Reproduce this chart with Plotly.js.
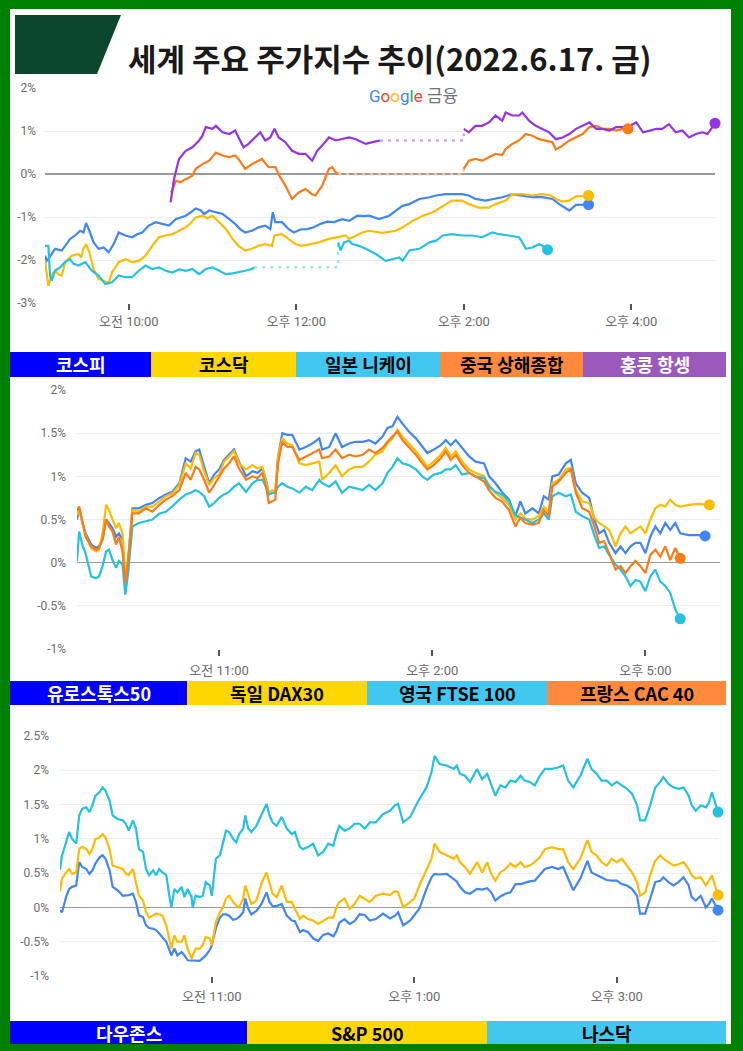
<!DOCTYPE html>
<html>
<head>
<meta charset="utf-8">
<script src="https://cdn.plot.ly/plotly-3.0.1.min.js"></script>
<style>html,body{margin:0;padding:0;background:#008000;}#chart{width:743px;height:1051px;}</style>
</head>
<body>
<div id="chart"></div>
<script>
// ---------------- Panel 1: Asia (KST, decimal hours) ----------------
const kospiT = [9.00,9.02,9.04,9.12,9.20,9.24,9.30,9.36,9.42,9.46,9.49,9.53,9.58,9.64,9.70,9.76,9.82,9.88,9.96,10.04,10.10,10.16,10.24,10.32,10.40,10.48,10.56,10.68,10.74,10.80,10.86,10.90,10.96,11.04,11.12,11.20,11.27,11.33,11.39,11.47,11.55,11.63,11.69,11.72,11.75,11.83,11.91,11.97,12.05,12.13,12.21,12.29,12.37,12.45,12.55,12.63,12.73,12.81,12.87,12.99,13.11,13.19,13.27,13.35,13.47,13.59,13.67,13.78,13.90,13.98,14.06,14.14,14.26,14.38,14.46,14.58,14.70,14.82,14.94,15.06,15.14,15.22,15.26,15.34,15.42,15.49];
const kospiV = [-1.90,-2.02,-1.98,-1.74,-1.78,-1.67,-1.51,-1.43,-1.32,-1.36,-1.14,-1.32,-1.59,-1.74,-1.71,-1.82,-1.63,-1.36,-1.43,-1.47,-1.40,-1.36,-1.20,-1.12,-1.16,-1.20,-1.05,-0.97,-0.89,-0.80,-0.85,-0.93,-0.85,-0.89,-0.93,-1.05,-1.16,-1.28,-1.36,-1.32,-1.24,-1.20,-1.28,-0.89,-1.12,-1.12,-1.28,-1.36,-1.29,-1.28,-1.24,-1.16,-1.11,-1.12,-1.05,-1.09,-0.97,-0.98,-0.97,-1.05,-0.97,-0.85,-0.74,-0.70,-0.58,-0.54,-0.50,-0.47,-0.47,-0.47,-0.50,-0.58,-0.62,-0.58,-0.54,-0.47,-0.50,-0.54,-0.54,-0.58,-0.70,-0.81,-0.85,-0.72,-0.72,-0.71];
const kosdaqT = [9.00,9.04,9.08,9.12,9.16,9.20,9.24,9.32,9.40,9.43,9.46,9.49,9.53,9.58,9.64,9.70,9.76,9.80,9.88,9.96,10.04,10.12,10.20,10.28,10.36,10.44,10.52,10.60,10.68,10.74,10.80,10.88,10.94,11.00,11.08,11.16,11.24,11.31,11.39,11.47,11.55,11.63,11.71,11.74,11.83,11.91,11.99,12.07,12.19,12.27,12.39,12.51,12.59,12.63,12.71,12.79,12.87,13.03,13.19,13.27,13.39,13.51,13.63,13.75,13.86,13.98,14.06,14.18,14.30,14.38,14.50,14.58,14.70,14.82,14.94,15.04,15.10,15.18,15.26,15.34,15.42,15.49];
const kosdaqV = [-2.02,-2.60,-2.36,-2.25,-2.33,-2.36,-2.05,-1.90,-1.86,-1.94,-1.74,-1.63,-1.82,-2.21,-2.44,-2.48,-2.53,-2.29,-2.05,-1.98,-2.05,-2.02,-1.90,-1.67,-1.47,-1.43,-1.40,-1.32,-1.24,-1.14,-1.01,-0.97,-1.03,-0.97,-1.12,-1.28,-1.51,-1.67,-1.78,-1.74,-1.67,-1.63,-1.67,-1.43,-1.40,-1.51,-1.63,-1.67,-1.63,-1.59,-1.51,-1.47,-1.43,-1.51,-1.43,-1.36,-1.32,-1.37,-1.32,-1.24,-1.09,-0.97,-0.89,-0.74,-0.62,-0.62,-0.70,-0.78,-0.78,-0.70,-0.62,-0.47,-0.47,-0.50,-0.47,-0.50,-0.58,-0.64,-0.62,-0.52,-0.50,-0.50];
const nikkeiAmT = [9.00,9.04,9.06,9.08,9.12,9.18,9.24,9.30,9.34,9.40,9.48,9.56,9.64,9.72,9.80,9.88,9.96,10.04,10.12,10.20,10.28,10.36,10.44,10.52,10.60,10.68,10.76,10.84,10.92,11.00,11.08,11.16,11.24,11.31,11.39,11.47,11.50];
const nikkeiAmV = [-1.67,-1.67,-2.36,-2.48,-2.25,-2.17,-2.05,-1.98,-2.09,-2.13,-2.05,-2.25,-2.36,-2.56,-2.52,-2.36,-2.40,-2.40,-2.25,-2.13,-2.21,-2.17,-2.25,-2.29,-2.22,-2.25,-2.21,-2.33,-2.21,-2.17,-2.25,-2.33,-2.31,-2.29,-2.25,-2.21,-2.17];
const nikkeiPmT = [12.50,12.53,12.57,12.63,12.67,12.75,12.83,12.95,13.07,13.15,13.23,13.27,13.35,13.47,13.59,13.67,13.75,13.86,13.98,14.10,14.22,14.34,14.42,14.54,14.66,14.70,14.74,14.82,14.90,14.94,15.00];
const nikkeiPmV = [-1.59,-1.78,-1.59,-1.55,-1.63,-1.67,-1.74,-1.86,-2.02,-1.98,-1.94,-2.02,-1.78,-1.74,-1.59,-1.55,-1.43,-1.40,-1.43,-1.43,-1.47,-1.36,-1.40,-1.43,-1.47,-1.59,-1.74,-1.71,-1.63,-1.67,-1.76];
const chinaAmT = [10.50,10.52,10.56,10.62,10.68,10.76,10.80,10.88,10.96,11.04,11.12,11.20,11.27,11.31,11.39,11.47,11.55,11.59,11.67,11.75,11.81,11.87,11.95,12.03,12.11,12.19,12.23,12.31,12.39,12.43,12.47,12.50];
const chinaAmV = [-0.43,-0.39,-0.16,-0.19,-0.12,-0.04,0.12,0.23,0.31,0.50,0.43,0.39,0.43,0.35,0.12,0.23,0.31,0.35,0.16,0.16,-0.08,-0.27,-0.58,-0.43,-0.35,-0.47,-0.50,-0.27,0.12,0.16,0.04,0.00];
const chinaPmT = [14.00,14.06,14.14,14.22,14.30,14.38,14.46,14.50,14.58,14.66,14.74,14.82,14.90,14.98,15.06,15.10,15.18,15.26,15.34,15.42,15.50,15.58,15.66,15.74,15.82,15.90,15.96];
const chinaPmV = [0.12,0.31,0.35,0.31,0.39,0.47,0.44,0.58,0.70,0.78,0.93,0.89,0.81,0.78,0.74,0.57,0.66,0.78,0.85,0.93,1.09,1.12,1.05,1.05,1.01,1.05,1.05];
const hkAmT = [10.50,10.54,10.60,10.68,10.76,10.84,10.88,10.92,11.00,11.04,11.12,11.20,11.27,11.31,11.37,11.43,11.51,11.57,11.63,11.69,11.74,11.79,11.87,11.95,12.03,12.11,12.19,12.25,12.31,12.39,12.47,12.55,12.63,12.71,12.79,12.83,12.91,12.95,13.00];
const hkAmV = [-0.66,-0.12,0.35,0.54,0.62,0.78,0.89,1.09,1.05,1.12,0.97,0.93,1.01,0.85,0.62,0.70,0.85,0.97,0.78,0.85,1.05,0.85,0.74,0.54,0.47,0.47,0.31,0.54,0.66,0.85,0.78,0.81,0.85,0.81,0.74,0.70,0.74,0.76,0.78];
const hkPmT = [14.00,14.06,14.14,14.22,14.30,14.38,14.46,14.50,14.58,14.66,14.70,14.78,14.86,14.94,15.02,15.10,15.18,15.26,15.34,15.42,15.50,15.58,15.66,15.74,15.82,15.90,15.98,16.06,16.14,16.22,16.30,16.37,16.45,16.53,16.61,16.69,16.77,16.85,16.91,17.00];
const hkPmV = [1.05,0.97,1.12,1.12,1.20,1.36,1.24,1.43,1.36,1.36,1.43,1.24,1.12,1.05,0.97,0.81,0.85,0.93,1.05,1.12,1.20,1.05,1.05,1.01,1.09,1.09,1.12,1.20,0.97,1.01,1.05,1.05,1.16,0.97,1.01,0.85,0.93,0.97,0.93,1.18];

// ---------------- Panel 2: Europe (CEST) ----------------
const euT = [9.00,9.03,9.08,9.12,9.20,9.27,9.31,9.36,9.41,9.45,9.50,9.55,9.59,9.64,9.68,9.72,9.78,9.87,9.97,10.06,10.16,10.25,10.34,10.44,10.53,10.60,10.67,10.72,10.79,10.86,10.93,11.00,11.07,11.14,11.21,11.28,11.38,11.47,11.54,11.61,11.66,11.70,11.75,11.79,11.83,11.89,11.96,12.03,12.13,12.22,12.31,12.41,12.45,12.55,12.64,12.73,12.83,12.92,13.02,13.11,13.20,13.30,13.37,13.44,13.51,13.58,13.67,13.77,13.86,13.93,14.02,14.12,14.19,14.26,14.33,14.42,14.52,14.61,14.73,14.80,14.89,14.98,15.08,15.17,15.24,15.31,15.41,15.50,15.57,15.64,15.69,15.78,15.88,15.95,16.02,16.11,16.21,16.28,16.35,16.42,16.49,16.58,16.65,16.72,16.79,16.86,16.93,17.00,17.07,17.14,17.21,17.28,17.35,17.42,17.49];
const stoxxV = [0.50,0.63,0.46,0.34,0.21,0.17,0.19,0.27,0.50,0.46,0.40,0.30,0.34,0.27,-0.20,0.03,0.63,0.63,0.67,0.69,0.75,0.79,0.82,0.92,1.21,1.17,1.29,1.31,1.11,0.92,1.02,1.08,1.19,1.25,1.31,1.17,1.00,1.06,1.04,1.09,0.96,0.79,0.81,0.81,1.23,1.50,1.48,1.48,1.31,1.34,1.38,1.44,1.31,1.34,1.50,1.34,1.38,1.40,1.40,1.42,1.38,1.46,1.56,1.58,1.69,1.61,1.52,1.44,1.34,1.27,1.31,1.36,1.42,1.36,1.42,1.33,1.23,1.17,1.15,1.00,0.92,0.82,0.73,0.54,0.71,0.57,0.63,0.57,0.77,0.73,1.00,1.02,1.15,1.19,0.92,0.81,0.75,0.50,0.34,0.38,0.23,0.11,0.19,0.11,0.19,0.23,0.23,0.11,0.30,0.42,0.34,0.46,0.38,0.46,0.34];
const daxV = [0.55,0.61,0.44,0.32,0.17,0.13,0.15,0.34,0.67,0.61,0.50,0.40,0.46,0.34,-0.16,0.05,0.61,0.59,0.65,0.65,0.71,0.77,0.80,0.90,1.15,1.09,1.27,1.25,1.06,0.90,0.98,1.02,1.17,1.23,1.29,1.15,1.08,1.13,1.09,1.11,0.94,0.81,0.84,0.82,1.23,1.44,1.38,1.36,1.15,1.13,1.15,1.17,0.96,1.04,1.13,1.00,1.08,1.11,1.11,1.17,1.25,1.29,1.38,1.44,1.54,1.46,1.38,1.29,1.19,1.11,1.17,1.25,1.33,1.23,1.29,1.17,1.08,1.04,1.00,0.90,0.81,0.75,0.67,0.50,0.57,0.51,0.50,0.54,0.65,0.59,0.92,0.96,1.08,1.10,0.84,0.71,0.69,0.52,0.46,0.42,0.38,0.19,0.34,0.42,0.34,0.38,0.42,0.34,0.50,0.63,0.67,0.65,0.73,0.67,0.65];
const ftseV = [0.02,0.36,0.19,0.11,-0.16,-0.18,-0.16,-0.04,0.13,0.15,0.03,-0.06,0.02,-0.02,-0.37,-0.12,0.42,0.46,0.48,0.50,0.57,0.59,0.65,0.73,0.79,0.81,0.84,0.82,0.77,0.65,0.69,0.75,0.79,0.82,0.88,0.92,0.82,0.92,0.96,0.96,0.88,0.79,0.81,0.81,0.88,0.92,0.88,0.86,0.81,0.88,0.84,0.96,0.92,0.88,0.94,0.81,0.88,0.86,0.84,0.90,0.84,0.92,1.04,1.11,1.21,1.15,1.13,1.08,1.00,0.96,1.02,1.04,1.08,1.08,1.13,1.02,1.04,1.00,0.98,0.88,0.82,0.79,0.71,0.55,0.52,0.50,0.46,0.50,0.57,0.50,0.77,0.81,0.77,0.79,0.59,0.54,0.50,0.32,0.17,0.19,0.09,-0.02,-0.08,-0.16,-0.27,-0.20,-0.22,-0.33,-0.16,-0.08,-0.22,-0.27,-0.35,-0.54,-0.65];
const cacV = [0.60,0.65,0.46,0.30,0.19,0.15,0.17,0.27,0.50,0.42,0.36,0.21,0.30,0.13,-0.24,0.02,0.57,0.57,0.63,0.59,0.67,0.73,0.77,0.84,1.04,0.96,1.11,1.08,0.96,0.81,0.90,1.00,1.09,1.15,1.23,1.09,0.96,1.00,0.98,1.04,0.88,0.69,0.71,0.73,1.15,1.40,1.34,1.34,1.19,1.23,1.27,1.31,1.21,1.23,1.31,1.21,1.25,1.23,1.25,1.31,1.27,1.33,1.40,1.46,1.52,1.42,1.34,1.25,1.15,1.08,1.13,1.21,1.29,1.19,1.25,1.13,1.04,1.00,0.94,0.84,0.75,0.71,0.61,0.42,0.52,0.46,0.44,0.46,0.61,0.54,0.88,0.94,1.04,1.08,0.81,0.63,0.59,0.42,0.23,0.25,0.11,-0.08,-0.04,-0.12,-0.04,0.02,-0.04,-0.12,0.09,0.15,0.07,0.19,0.03,0.17,0.05];
const stoxxTailT = [17.61,17.75,17.84];
const stoxxTailV = [0.32,0.32,0.31];
const daxTailT = [17.61,17.75,17.90];
const daxTailV = [0.67,0.68,0.67];

// ---------------- Panel 3: US (ET) ----------------
const usT = [9.50,9.52,9.56,9.59,9.62,9.66,9.69,9.72,9.76,9.79,9.82,9.85,9.89,9.92,9.95,9.99,10.02,10.07,10.12,10.15,10.18,10.22,10.25,10.28,10.32,10.35,10.38,10.42,10.45,10.48,10.51,10.55,10.58,10.60,10.63,10.66,10.70,10.73,10.76,10.80,10.81,10.84,10.88,10.91,10.94,10.98,11.00,11.04,11.08,11.11,11.14,11.17,11.21,11.24,11.27,11.31,11.33,11.36,11.39,11.44,11.49,11.54,11.57,11.60,11.64,11.69,11.74,11.79,11.82,11.87,11.90,11.95,12.00,12.05,12.10,12.15,12.20,12.23,12.26,12.31,12.36,12.41,12.46,12.51,12.56,
  12.62,12.69,12.76,12.81,12.84,12.89,12.96,13.00,13.05,13.12,13.17,13.20,13.25,13.32,13.39,13.42,13.45,13.50,13.55,13.62,13.67,13.72,13.76,13.80,13.85,13.90,13.95,14.00,14.05,14.09,14.14,14.19,14.24,14.29,14.36,14.42,14.47,14.52,14.57,14.64,14.71,14.75,14.80,14.85,14.90,14.95,15.00,15.05,15.10,15.15,15.20,15.23,15.28,15.33,15.38,15.43,15.46,15.51,15.56,15.61,15.66,15.71,15.74,15.78,15.83,15.88,15.91,15.94,15.98,16.00];
const dowV = [-0.04,-0.07,0.15,0.27,0.30,0.32,0.66,0.59,0.56,0.49,0.54,0.64,0.73,0.76,0.71,0.54,0.30,0.25,0.17,0.17,0.18,0.20,0.08,-0.12,-0.14,-0.26,-0.30,-0.31,-0.33,-0.38,-0.43,-0.50,-0.62,-0.70,-0.60,-0.70,-0.65,-0.70,-0.77,-0.77,-0.77,-0.78,-0.78,-0.74,-0.70,-0.62,-0.55,-0.30,-0.15,-0.10,-0.10,-0.12,-0.18,-0.17,-0.14,-0.07,0.13,-0.02,-0.10,-0.05,0.05,0.22,0.08,0.02,0.02,0.05,-0.12,-0.19,-0.20,-0.36,-0.33,-0.36,-0.45,-0.49,-0.40,-0.38,-0.42,-0.35,-0.22,-0.17,-0.24,-0.20,-0.10,-0.11,-0.19,
  -0.17,-0.09,-0.16,-0.12,-0.07,-0.26,-0.19,-0.12,-0.02,0.27,0.44,0.49,0.48,0.49,0.42,0.38,0.30,0.22,0.20,0.27,0.26,0.28,0.22,0.10,0.16,0.20,0.22,0.34,0.34,0.36,0.38,0.39,0.47,0.56,0.59,0.56,0.59,0.42,0.25,0.42,0.68,0.51,0.47,0.43,0.40,0.39,0.39,0.34,0.32,0.27,0.17,-0.09,-0.09,0.13,0.37,0.39,0.44,0.37,0.32,0.37,0.44,0.32,0.15,0.10,0.17,0.00,0.05,0.13,0.03,-0.04];
const spV = [0.23,0.42,0.51,0.56,0.49,0.51,0.86,0.88,0.85,0.78,0.85,1.00,1.02,1.07,1.02,0.85,0.61,0.59,0.56,0.49,0.47,0.56,0.37,0.17,0.10,-0.07,-0.15,-0.12,-0.09,-0.10,-0.12,-0.26,-0.46,-0.60,-0.41,-0.50,-0.50,-0.41,-0.60,-0.75,-0.70,-0.60,-0.60,-0.55,-0.43,-0.45,-0.55,-0.21,-0.07,0.00,0.13,0.17,0.08,0.03,0.00,0.13,0.32,0.17,0.05,0.10,0.35,0.51,0.37,0.20,0.15,0.32,0.08,0.08,-0.02,-0.17,-0.12,-0.17,-0.19,-0.24,-0.20,-0.15,-0.15,0.00,0.08,0.13,-0.02,0.05,0.17,0.12,0.08,
  0.17,0.20,0.18,0.24,0.22,0.00,0.08,0.13,0.32,0.54,0.71,0.93,0.81,0.76,0.71,0.76,0.66,0.59,0.49,0.66,0.51,0.66,0.49,0.39,0.51,0.56,0.64,0.59,0.66,0.59,0.61,0.66,0.73,0.85,0.88,0.85,0.85,0.66,0.56,0.71,0.98,0.81,0.76,0.66,0.61,0.71,0.66,0.71,0.61,0.51,0.37,0.17,0.22,0.47,0.68,0.76,0.71,0.66,0.61,0.63,0.66,0.56,0.47,0.42,0.44,0.32,0.39,0.47,0.27,0.18];
const nasdaqV = [0.55,0.76,0.95,1.10,1.00,0.93,1.34,1.44,1.46,1.39,1.49,1.63,1.68,1.75,1.70,1.56,1.34,1.29,1.27,1.22,1.12,1.27,1.15,0.85,0.81,0.56,0.47,0.54,0.47,0.56,0.51,0.47,0.17,0.00,0.27,0.22,0.30,0.15,0.27,0.15,0.00,0.17,0.15,0.17,0.37,0.32,0.17,0.71,0.76,0.95,1.12,1.10,1.00,0.95,1.07,1.15,1.34,1.15,1.10,1.19,1.36,1.51,1.34,1.24,1.19,1.32,1.15,1.07,1.10,0.88,0.85,0.88,0.93,0.76,0.81,0.93,0.90,1.07,1.19,1.12,1.15,1.22,1.22,1.15,1.24,
  1.24,1.36,1.41,1.49,1.51,1.24,1.32,1.44,1.58,1.75,1.97,2.21,2.09,2.07,2.02,2.07,1.95,1.92,1.83,2.02,1.87,1.95,1.78,1.63,1.78,1.75,1.85,1.83,1.92,1.85,1.83,1.78,1.92,2.02,2.02,2.04,2.07,1.85,1.75,1.92,2.17,2.02,1.95,1.85,1.85,1.78,1.83,1.78,1.73,1.66,1.49,1.27,1.27,1.49,1.75,1.83,1.90,1.80,1.75,1.73,1.75,1.63,1.49,1.41,1.49,1.46,1.53,1.68,1.49,1.39];

// ---------------- Labels ----------------
const titleText = '세계 주요 주가지수 추이(2022.6.17. 금)';
const p1Names = ['코스피','코스닥','일본 니케이','중국 상해종합','홍콩 항셍'];
const p2Names = ['유로스톡스50','독일 DAX30','영국 FTSE 100','프랑스 CAC 40'];
const p3Names = ['다우존스','S&P 500','나스닥'];
const p1TickVals = [10,12,14,16], p1TickText = ['오전 10:00','오후 12:00','오후 2:00','오후 4:00'];
const p2TickVals = [11,14,17], p2TickText = ['오전 11:00','오후 2:00','오후 5:00'];
const p3TickVals = [11,13,15], p3TickText = ['오전 11:00','오후 1:00','오후 3:00'];
const y1Vals = [-3,-2,-1,0,1,2], y1Text = ['-3%','-2%','-1%','0%','1%','2%'];
const y2Vals = [-1,-0.5,0,0.5,1,1.5,2], y2Text = ['-1%','-0.5%','0%','0.5%','1%','1.5%','2%'];
const y3Vals = [-1,-0.5,0,0.5,1,1.5,2,2.5], y3Text = ['-1%','-0.5%','0%','0.5%','1%','1.5%','2%','2.5%'];

// ---------------- Styling ----------------
const W = 743, H = 1051;
const X = v => v / W, Y = v => 1 - v / H;
const C = {blue:'#4285F4', yellow:'#FBBC04', cyan:'#24C1E0', orange:'#FA7B17', purple:'#9334E6'};
const LC = {blue:'#A9C6FA', yellow:'#FDDD86', cyan:'#9EE3F1', orange:'#FCBE8E', purple:'#CFA6F3'};
const traces = [];
function line(t, v, col, xa, ya) {
  traces.push({x:t, y:v, type:'scatter', mode:'lines', line:{color:col, width:2.2}, xaxis:xa, yaxis:ya, hoverinfo:'skip', showlegend:false});
}
function dot(t, v, col, xa, ya) {
  traces.push({x:[t[t.length-1]], y:[v[v.length-1]], type:'scatter', mode:'markers', marker:{color:col, size:11}, cliponaxis:false, xaxis:xa, yaxis:ya, hoverinfo:'skip', showlegend:false});
}
function gap(amT, amV, pmT, pmV, col, xa, ya) {
  const a = amV[amV.length-1];
  traces.push({x:[amT[amT.length-1], pmT[0], pmT[0]], y:[a, a, pmV[0]], type:'scatter', mode:'lines', line:{color:col, width:2.4, dash:'3px,5px'}, xaxis:xa, yaxis:ya, hoverinfo:'skip', showlegend:false});
}
// Panel 1
line(kospiT, kospiV, C.blue, 'x', 'y');
line(kosdaqT, kosdaqV, C.yellow, 'x', 'y');
gap(nikkeiAmT, nikkeiAmV, nikkeiPmT, nikkeiPmV, LC.cyan, 'x', 'y');
line(nikkeiAmT, nikkeiAmV, C.cyan, 'x', 'y');
line(nikkeiPmT, nikkeiPmV, C.cyan, 'x', 'y');
gap(chinaAmT, chinaAmV, chinaPmT, chinaPmV, LC.orange, 'x', 'y');
line(chinaAmT, chinaAmV, C.orange, 'x', 'y');
line(chinaPmT, chinaPmV, C.orange, 'x', 'y');
gap(hkAmT, hkAmV, hkPmT, hkPmV, LC.purple, 'x', 'y');
line(hkAmT, hkAmV, C.purple, 'x', 'y');
line(hkPmT, hkPmV, C.purple, 'x', 'y');
dot(kospiT, kospiV, C.blue, 'x', 'y');
dot(kosdaqT, kosdaqV, C.yellow, 'x', 'y');
dot(nikkeiPmT, nikkeiPmV, C.cyan, 'x', 'y');
dot(chinaPmT, chinaPmV, C.orange, 'x', 'y');
dot(hkPmT, hkPmV, C.purple, 'x', 'y');
// Panel 2
const stoxxT = euT.concat(stoxxTailT), stoxxAll = stoxxV.concat(stoxxTailV);
const daxT = euT.concat(daxTailT), daxAll = daxV.concat(daxTailV);
line(stoxxT, stoxxAll, C.blue, 'x2', 'y2');
line(daxT, daxAll, C.yellow, 'x2', 'y2');
line(euT, ftseV, C.cyan, 'x2', 'y2');
line(euT, cacV, C.orange, 'x2', 'y2');
dot(stoxxT, stoxxAll, C.blue, 'x2', 'y2');
dot(daxT, daxAll, C.yellow, 'x2', 'y2');
dot(euT, ftseV, C.cyan, 'x2', 'y2');
dot(euT, cacV, C.orange, 'x2', 'y2');
// Panel 3
line(usT, dowV, C.blue, 'x3', 'y3');
line(usT, spV, C.yellow, 'x3', 'y3');
line(usT, nasdaqV, C.cyan, 'x3', 'y3');
dot(usT, dowV, C.blue, 'x3', 'y3');
dot(usT, spV, C.yellow, 'x3', 'y3');
dot(usT, nasdaqV, C.cyan, 'x3', 'y3');

const tickFont = {family:'Roboto, "Noto Sans CJK KR", sans-serif', size:12, color:'#6b6b6b'};
const xTickFont = {family:'Roboto, "Noto Sans CJK KR", sans-serif', size:13, color:'#6b6b6b'};
function xax(dom, range, tv, tt, standoff) {
  return {domain:[X(dom[0]), X(dom[1])], range:range, tickvals:tv, ticktext:tt, showgrid:false, zeroline:false,
    ticks:'outside', ticklen:6, tickwidth:2, tickcolor:'#555', showline:false, tickfont:xTickFont, fixedrange:true, ticklabelstandoff:standoff};
}
function yax(dom, range, tv, tt, anchor, standoff) {
  return {domain:[Y(dom[1]), Y(dom[0])], range:range, tickvals:tv, ticktext:tt, showgrid:true, gridcolor:'#eeeeee', gridwidth:1,
    zeroline:true, zerolinecolor:'#9a9a9a', zerolinewidth:1.5, ticks:'', showline:false, tickfont:tickFont, fixedrange:true, anchor:anchor, ticklabelstandoff:standoff};
}

const shapes = [
  {type:'rect', xref:'paper', yref:'paper', x0:X(10), x1:X(731), y0:Y(1044), y1:Y(9), fillcolor:'#ffffff', line:{width:0}, layer:'below'},
  {type:'path', xref:'paper', yref:'paper', path:`M ${X(15)},${Y(15)} L ${X(121)},${Y(15)} L ${X(97)},${Y(74)} L ${X(15)},${Y(74)} Z`, fillcolor:'#0B472C', line:{width:0}, layer:'below'}
];
const annotations = [
  {xref:'paper', yref:'paper', x:X(390), y:Y(57), text:'<b>'+titleText+'</b>', showarrow:false, xanchor:'center', yanchor:'middle',
    font:{family:'"Noto Sans CJK KR", sans-serif', size:31, color:'#1a1a1a'}},
  {xref:'paper', yref:'paper', x:X(413), y:Y(96), showarrow:false, xanchor:'center', yanchor:'middle',
    text:'<span style="color:#4285F4">G</span><span style="color:#EA4335">o</span><span style="color:#FBBC05">o</span><span style="color:#4285F4">g</span><span style="color:#34A853">l</span><span style="color:#EA4335">e</span> <span style="color:#70757a">금융</span>',
    font:{family:'Roboto, "Noto Sans CJK KR", sans-serif', size:17, color:'#70757a'}}
];
function legendRow(names, edges, fills, textCols, top, bottom) {
  names.forEach((n, i) => {
    shapes.push({type:'rect', xref:'paper', yref:'paper', x0:X(edges[i]), x1:X(edges[i+1]), y0:Y(bottom), y1:Y(top), fillcolor:fills[i], line:{width:0}, layer:'above'});
    annotations.push({xref:'paper', yref:'paper', x:X((edges[i]+edges[i+1])/2), y:Y((top+bottom)/2), text:'<b>'+n+'</b>', showarrow:false,
      xanchor:'center', yanchor:'middle', font:{family:'"Noto Sans CJK KR", sans-serif', size:18, color:textCols[i]}});
  });
}
const BB = '#0000FF', BY = '#FFD700', BC = '#42C8F0', BO = '#FF8A3D', BP = '#9B59BB';
legendRow(p1Names, [10,151,296,440,583,726], [BB,BY,BC,BO,BP], ['#fff','#000','#000','#000','#fff'], 352, 377);
legendRow(p2Names, [10,187,367,547,726], [BB,BY,BC,BO], ['#fff','#000','#000','#000'], 681, 705);
legendRow(p3Names, [10,247,487,726], [BB,BY,BC], ['#fff','#000','#000'], 1021, 1044);

const layout = {
  width:W, height:H, margin:{l:0, r:0, t:0, b:0}, paper_bgcolor:'#008000', plot_bgcolor:'rgba(0,0,0,0)', showlegend:false, hovermode:false,
  xaxis: Object.assign(xax([45,715], [9,17], p1TickVals, p1TickText, 0), {anchor:'y'}),
  yaxis: yax([88,303], [-3,2], y1Vals, y1Text, 'x', 8),
  xaxis2: Object.assign(xax([77,720], [9,18.05], p2TickVals, p2TickText, 3), {anchor:'y2'}),
  yaxis2: yax([390,649], [-1,2], y2Vals, y2Text, 'x2', 10),
  xaxis3: Object.assign(xax([60,718], [9.5,16], p3TickVals, p3TickText, 2), {anchor:'y3'}),
  yaxis3: yax([736,976], [-1,2.5], y3Vals, y3Text, 'x3', 10),
  shapes:shapes, annotations:annotations
};
Plotly.newPlot('chart', traces, layout, {staticPlot:true, displayModeBar:false});
</script>
</body>
</html>
